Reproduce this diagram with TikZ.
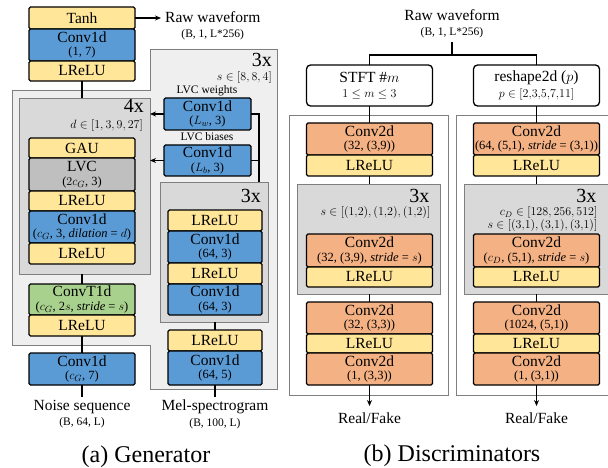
\documentclass[tikz,border=0pt]{standalone}
\usepackage{fontspec}
\setmainfont{Liberation Serif}
\usetikzlibrary{positioning,arrows.meta}
\definecolor{yel}{HTML}{FFE699}
\definecolor{blu}{HTML}{5B9BD5}
\definecolor{grn}{HTML}{A9D18E}
\definecolor{org}{HTML}{F4B183}
\definecolor{lvc}{HTML}{BFBFBF}
\definecolor{bgA}{HTML}{EFEFEF}
\definecolor{bgB}{HTML}{D9D9D9}
\definecolor{edge}{HTML}{7F7F7F}
\newcommand\bx{\fontsize{15.5}{15.5}\selectfont}
\newcommand\subtxt{\fontsize{12.5}{12.5}\selectfont}
\newcommand\smtxt{\fontsize{11.5}{13}\selectfont}
\newcommand\bigtxt{\fontsize{20}{20}\selectfont}
\begin{document}
\begin{tikzpicture}[x=1pt, y=-1pt,
  lay/.style={draw, line width=1.3pt, inner sep=0pt, outer sep=0pt, align=center, font=\bx, rounded corners=1.5pt},
  one/.style={lay, minimum height=20pt},
  two/.style={lay, minimum height=32pt},
  yl/.style={one, fill=yel},
  bl/.style={two, fill=blu},
  gr/.style={two, fill=grn},
  og/.style={two, fill=org},
  lv/.style={two, fill=lvc},
  gen/.style={minimum width=106pt},
  aux/.style={minimum width=87pt},
  mel/.style={minimum width=94pt},
  dis/.style={minimum width=126pt},
  grp/.style={draw=edge, fill=bgB, line width=0.8pt, anchor=north west, inner sep=0pt, outer sep=0pt},
  tag/.style={font=\bigtxt, anchor=base east, inner sep=0pt},
  cond/.style={font=\smtxt, anchor=base east, inner sep=0pt},
  io/.style={font=\bx, align=center, inner sep=0pt},
  con/.style={line width=1.2pt},
  arr/.style={con, -{Stealth[length=6pt,width=5pt]}}]
\useasboundingbox (0,0) rectangle (608,468);
\clip (0,0) rectangle (608,468);
\fill[white] (0,0) rectangle (608,468);

% generator
\draw[edge, fill=bgA, line width=0.8pt] (12,90) -- (150,90) -- (150,49) -- (277,49) -- (277,389)
  -- (150,389) -- (150,345) -- (12,345) -- cycle;
\node[tag] (t3o) at (272,67) {3x};
\node[cond] (c3o) at (272,81) {$s \in [8,8,4]$};
\node[grp, minimum width=131pt, minimum height=176pt] (g4) at (19,98) {};
\node[tag] (t4) at (144,113) {4x};
\node[cond] (c4) at (143,129) {$d \in [1,3,9,27]$};
\node[grp, minimum width=108pt, minimum height=140pt] (g3) at (160,182) {};
\node[tag] (t3i) at (261,203) {3x};

\node[yl, gen, anchor=north, minimum height=22pt] (t1) at (82,7) {Tanh};
\node[bl, gen, below=0pt of t1] (t2) {Conv1d\\[-2pt]{\subtxt (1, 7)}};
\node[yl, gen, below=0pt of t2] (t3) {LReLU};
\node[io, anchor=north west, inner xsep=4pt] (rw) at (161,11) {Raw waveform\\{\smtxt (B, 1, L*256)}};

\node[yl, gen, anchor=north] (a1) at (82,138) {GAU};
\node[lv, gen, below=0pt of a1, minimum height=33pt] (a2) {LVC\\[-2pt]{\subtxt ($2c_G$, 3)}};
\node[yl, gen, below=0pt of a2] (a3) {LReLU};
\node[bl, gen, below=0pt of a3] (a4) {Conv1d\\[-2pt]{\subtxt ($c_G$, 3, \textit{dilation} = $d$)}};
\node[yl, gen, below=0pt of a4, minimum height=21pt] (a5) {LReLU};

\node[gr, gen, anchor=north, minimum height=31pt] (b1) at (82,284) {ConvT1d\\[-2pt]{\subtxt ($c_G$, 2$s$, \textit{stride} = $s$)}};
\node[yl, gen, below=0pt of b1, minimum height=21pt] (b2) {LReLU};
\node[bl, gen, anchor=north] (n1) at (82,353) {Conv1d\\[-2pt]{\subtxt ($c_G$, 7)}};
\node[io, anchor=north, inner ysep=3pt] (ns) at (82,397) {Noise sequence\\{\smtxt (B, 64, L)}};

\node[font=\smtxt, inner sep=0pt] (lw) at (207,91) {LVC weights};
\node[bl, aux, anchor=north] (w1) at (207.5,98) {Conv1d\\[-2pt]{\subtxt ($L_w$, 3)}};
\node[font=\smtxt, inner sep=0pt] (lb) at (207,137) {LVC biases};
\node[bl, aux, anchor=north, minimum height=31pt] (w2) at (207.5,145) {Conv1d\\[-2pt]{\subtxt ($L_b$, 3)}};

\node[yl, mel, anchor=north, minimum height=21pt] (r1) at (215,210) {LReLU};
\node[bl, mel, below=0pt of r1] (r2) {Conv1d\\[-2pt]{\subtxt (64, 3)}};
\node[yl, mel, below=0pt of r2, minimum height=21pt] (r3) {LReLU};
\node[bl, mel, below=0pt of r3, minimum height=31pt] (r4) {Conv1d\\[-2pt]{\subtxt (64, 3)}};
\node[yl, mel, anchor=north, minimum height=21pt] (m1) at (215,330) {LReLU};
\node[bl, mel, below=0pt of m1, minimum height=34pt] (m2) {Conv1d\\[-2pt]{\subtxt (64, 5)}};
\node[io, anchor=north, inner ysep=3pt] (ms) at (215,397) {Mel-spectrogram\\{\smtxt (B, 100, L)}};

\draw[arr] (t1.east) -- (t1.east -| rw.west);
\draw[con] (t3.south) -- (t3.south |- g4.north);
\draw[con] (b1.north |- g4.south) -- (b1.north);
\draw[con] (b2.south) -- (n1.north);
\draw[con] (n1.south) -- (ns.north);
\draw[arr] (w1.west) -- (w1.west -| g4.east);
\draw[arr] (w2.west) -- (w2.west -| g4.east);
\draw[con] (w1.east) -| ([xshift=-9pt]g3.north east);
\draw[con] (w2.east) -- ([xshift=-9pt]g3.north east |- w2.east);
\draw[con] (m1.north |- g3.south) -- (m1.north);
\draw[con] (m2.south) -- (ms.north);

% discriminators
\node[io, anchor=north, inner ysep=4pt] (rw2) at (452,5) {Raw waveform\\{\smtxt (B, 1, L*256)}};
\coordinate (split) at (452,55);
\draw[con] (rw2.south) -- (split);
\foreach \x/\nm/\hd/\fa/\gl/\fb/\fc/\fd/\gw in {%
  369.5/l/{STFT \#$m$\\{\subtxt $1 \le m \le 3$}}/{(32, (3,9))}/{$s \in [(1{,}2),(1{,}2),(1{,}2)]$}/{(32, (3,9), \textit{stride} = $s$)}/{(32, (3,3))}/{(1, (3,3))}/143,
  536.5/r/{reshape2d ($p$)\\{\subtxt $p \in [2{,}3{,}5{,}7{,}11]$}}/{(64, (5,1), \textit{stride} = (3,1))}/{$c_D \in [128,256,512]$\\$s \in [(3{,}1),(3{,}1),(3{,}1)]$}/{($c_D$, (5,1), \textit{stride} = $s$)}/{(1024, (5,1))}/{(1, (3,1))}/150}{%
  \node[draw=edge, line width=1.2pt, inner sep=0pt, anchor=north west, minimum width=159pt, minimum height=280pt] (\nm o) at (\x-80.5,115) {};
  \node[grp, minimum width=\gw pt, minimum height=110pt] (\nm g) at (\x-72.5,184) {};
  \node[lay, dis, fill=white, rounded corners=4pt, minimum height=41pt, anchor=north] (\nm s0) at (\x,65) {\hd};
  \node[og, dis, anchor=north] (\nm d1) at (\x,123) {Conv2d\\[-2pt]{\subtxt \fa}};
  \node[yl, dis, below=0pt of \nm d1, minimum height=21pt] (\nm d2) {LReLU};
  \node[tag] (\nm t) at (\x+60,203) {3x};
  \node[font=\smtxt, anchor=north east, align=right, inner sep=0pt] (\nm c) at (\x+61,206) {\gl};
  \node[og, dis, anchor=north, minimum height=33pt] (\nm d3) at (\x,234) {Conv2d\\[-2pt]{\subtxt \fb}};
  \node[yl, dis, below=0pt of \nm d3] (\nm d4) {LReLU};
  \node[og, dis, anchor=north] (\nm d5) at (\x,302) {Conv2d\\[-2pt]{\subtxt \fc}};
  \node[yl, dis, below=0pt of \nm d5, minimum height=19pt] (\nm d6) {LReLU};
  \node[og, dis, below=0pt of \nm d6] (\nm d7) {Conv2d\\[-2pt]{\subtxt \fd}};
  \node[io, anchor=base, inner sep=6pt] (\nm rf) at (\x,423) {Real/Fake};
  \draw[con] (\nm s0.south) -- (\nm d1.north);
  \draw[con] (\nm d2.south) -- (\nm d2.south |- \nm g.north);
  \draw[con] (\nm d5.north |- \nm g.south) -- (\nm d5.north);
  \draw[arr] (\nm d7.south) -- (\nm rf.north);
}
\draw[con] (ls0.north) |- (split) -| (rs0.north);

\node[font=\fontsize{24}{24}\selectfont, inner sep=0pt] (capa) at (146,457) {(a) Generator};
\node[font=\fontsize{24}{24}\selectfont, inner sep=0pt] (capb) at (452,456) {(b) Discriminators};
\end{tikzpicture}
\end{document}
